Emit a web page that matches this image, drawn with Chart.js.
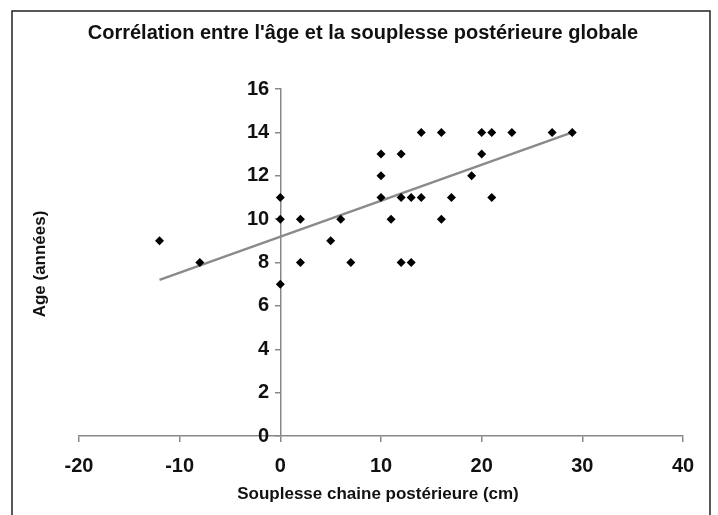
<!DOCTYPE html>
<html>
<head>
<meta charset="utf-8">
<script src="https://cdn.jsdelivr.net/npm/chart.js@4/dist/chart.umd.min.js"></script>
<style>
  body { margin: 0; background: #fff; }
  #wrap { width: 718px; height: 515px; position: relative; }
</style>
</head>
<body>
<div id="wrap"><canvas id="chart" width="718" height="515"></canvas></div>
<script>
// souplesse (cm) et age (annees)
const souplesse = [-12, -8, 0, 0, 0, 2, 2, 5, 6, 7, 10, 10, 10, 11, 12, 12, 12, 13, 13, 14, 14, 16, 16, 17, 19, 20, 20, 21, 21, 23, 27, 29];
const age       = [9, 8, 11, 10, 7, 10, 8, 9, 10, 8, 13, 12, 11, 10, 13, 11, 8, 11, 8, 14, 11, 14, 10, 11, 12, 14, 13, 14, 11, 14, 14, 14];

// droite de tendance (extremites lues)
const trendX = [-12, 29];
const trendY = [7.2, 14.0];

const xTicks = [-20, -10, 0, 10, 20, 30, 40];
const yTicks = [0, 2, 4, 6, 8, 10, 12, 14, 16];

const fontFamily = '"Liberation Sans", Arial, sans-serif';

const points = souplesse.map((x, i) => ({ x: x, y: age[i] }));
const trend = trendX.map((x, i) => ({ x: x, y: trendY[i] }));

// cadre, titre general et titres des axes
const extras = {
  id: 'extras',
  afterDraw(chart) {
    const ctx = chart.ctx;
    ctx.save();
    ctx.strokeStyle = '#222';
    ctx.lineWidth = 1.5;
    ctx.strokeRect(12, 11, 698, 515);
    ctx.fillStyle = '#111';
    ctx.textAlign = 'center';
    ctx.textBaseline = 'middle';
    ctx.font = 'bold 20px ' + fontFamily;
    ctx.fillText("Corrélation entre l'âge et la souplesse postérieure globale", 363, 33);
    ctx.font = 'bold 17px ' + fontFamily;
    ctx.fillText('Souplesse chaine postérieure (cm)', 378, 494);
    ctx.translate(40, 264);
    ctx.rotate(-Math.PI / 2);
    ctx.fillText('Age (années)', 0, 0);
    ctx.restore();
  }
};

new Chart(document.getElementById('chart'), {
  type: 'scatter',
  data: {
    datasets: [
      {
        label: 'Tendance',
        type: 'line',
        data: trend,
        borderColor: '#8a8a8a',
        borderWidth: 2.5,
        pointRadius: 0,
        fill: false,
        order: 2,
      },
      {
        label: 'Age',
        data: points,
        backgroundColor: '#000',
        borderColor: '#000',
        pointStyle: 'rectRot',
        pointRadius: 4.5,
        borderWidth: 0,
        order: 1,
      },
    ],
  },
  options: {
    responsive: false,
    animation: false,
    layout: { padding: { left: 79, right: 35, top: 89, bottom: 25 } },
    plugins: {
      legend: { display: false },
      tooltip: { enabled: false },
      title: { display: false },
    },
    scales: {
      x: {
        type: 'linear',
        position: 'bottom',
        min: -20,
        max: 40,
        afterBuildTicks: (axis) => { axis.ticks = xTicks.map((v) => ({ value: v })); },
        grid: { drawOnChartArea: false, drawTicks: true, tickLength: 6, color: '#888', lineWidth: 1.5 },
        border: { display: true, color: '#888', width: 1.5 },
        ticks: { color: '#111', padding: 12, font: { family: fontFamily, size: 20, weight: 'bold' } },
      },
      y: {
        type: 'linear',
        position: { x: 0 },
        min: 0,
        max: 16,
        afterBuildTicks: (axis) => { axis.ticks = yTicks.map((v) => ({ value: v })); },
        grid: { drawOnChartArea: false, drawTicks: true, tickLength: 5, color: '#888', lineWidth: 1.5 },
        border: { display: true, color: '#888', width: 1.5 },
        ticks: {
          color: '#111',
          font: { family: fontFamily, size: 20, weight: 'bold' },
          // les libelles sont colles a l'axe central, on les decale avec des espaces
          callback: (v) => v + '  ',
        },
      },
    },
  },
  plugins: [extras],
});
</script>
</body>
</html>
